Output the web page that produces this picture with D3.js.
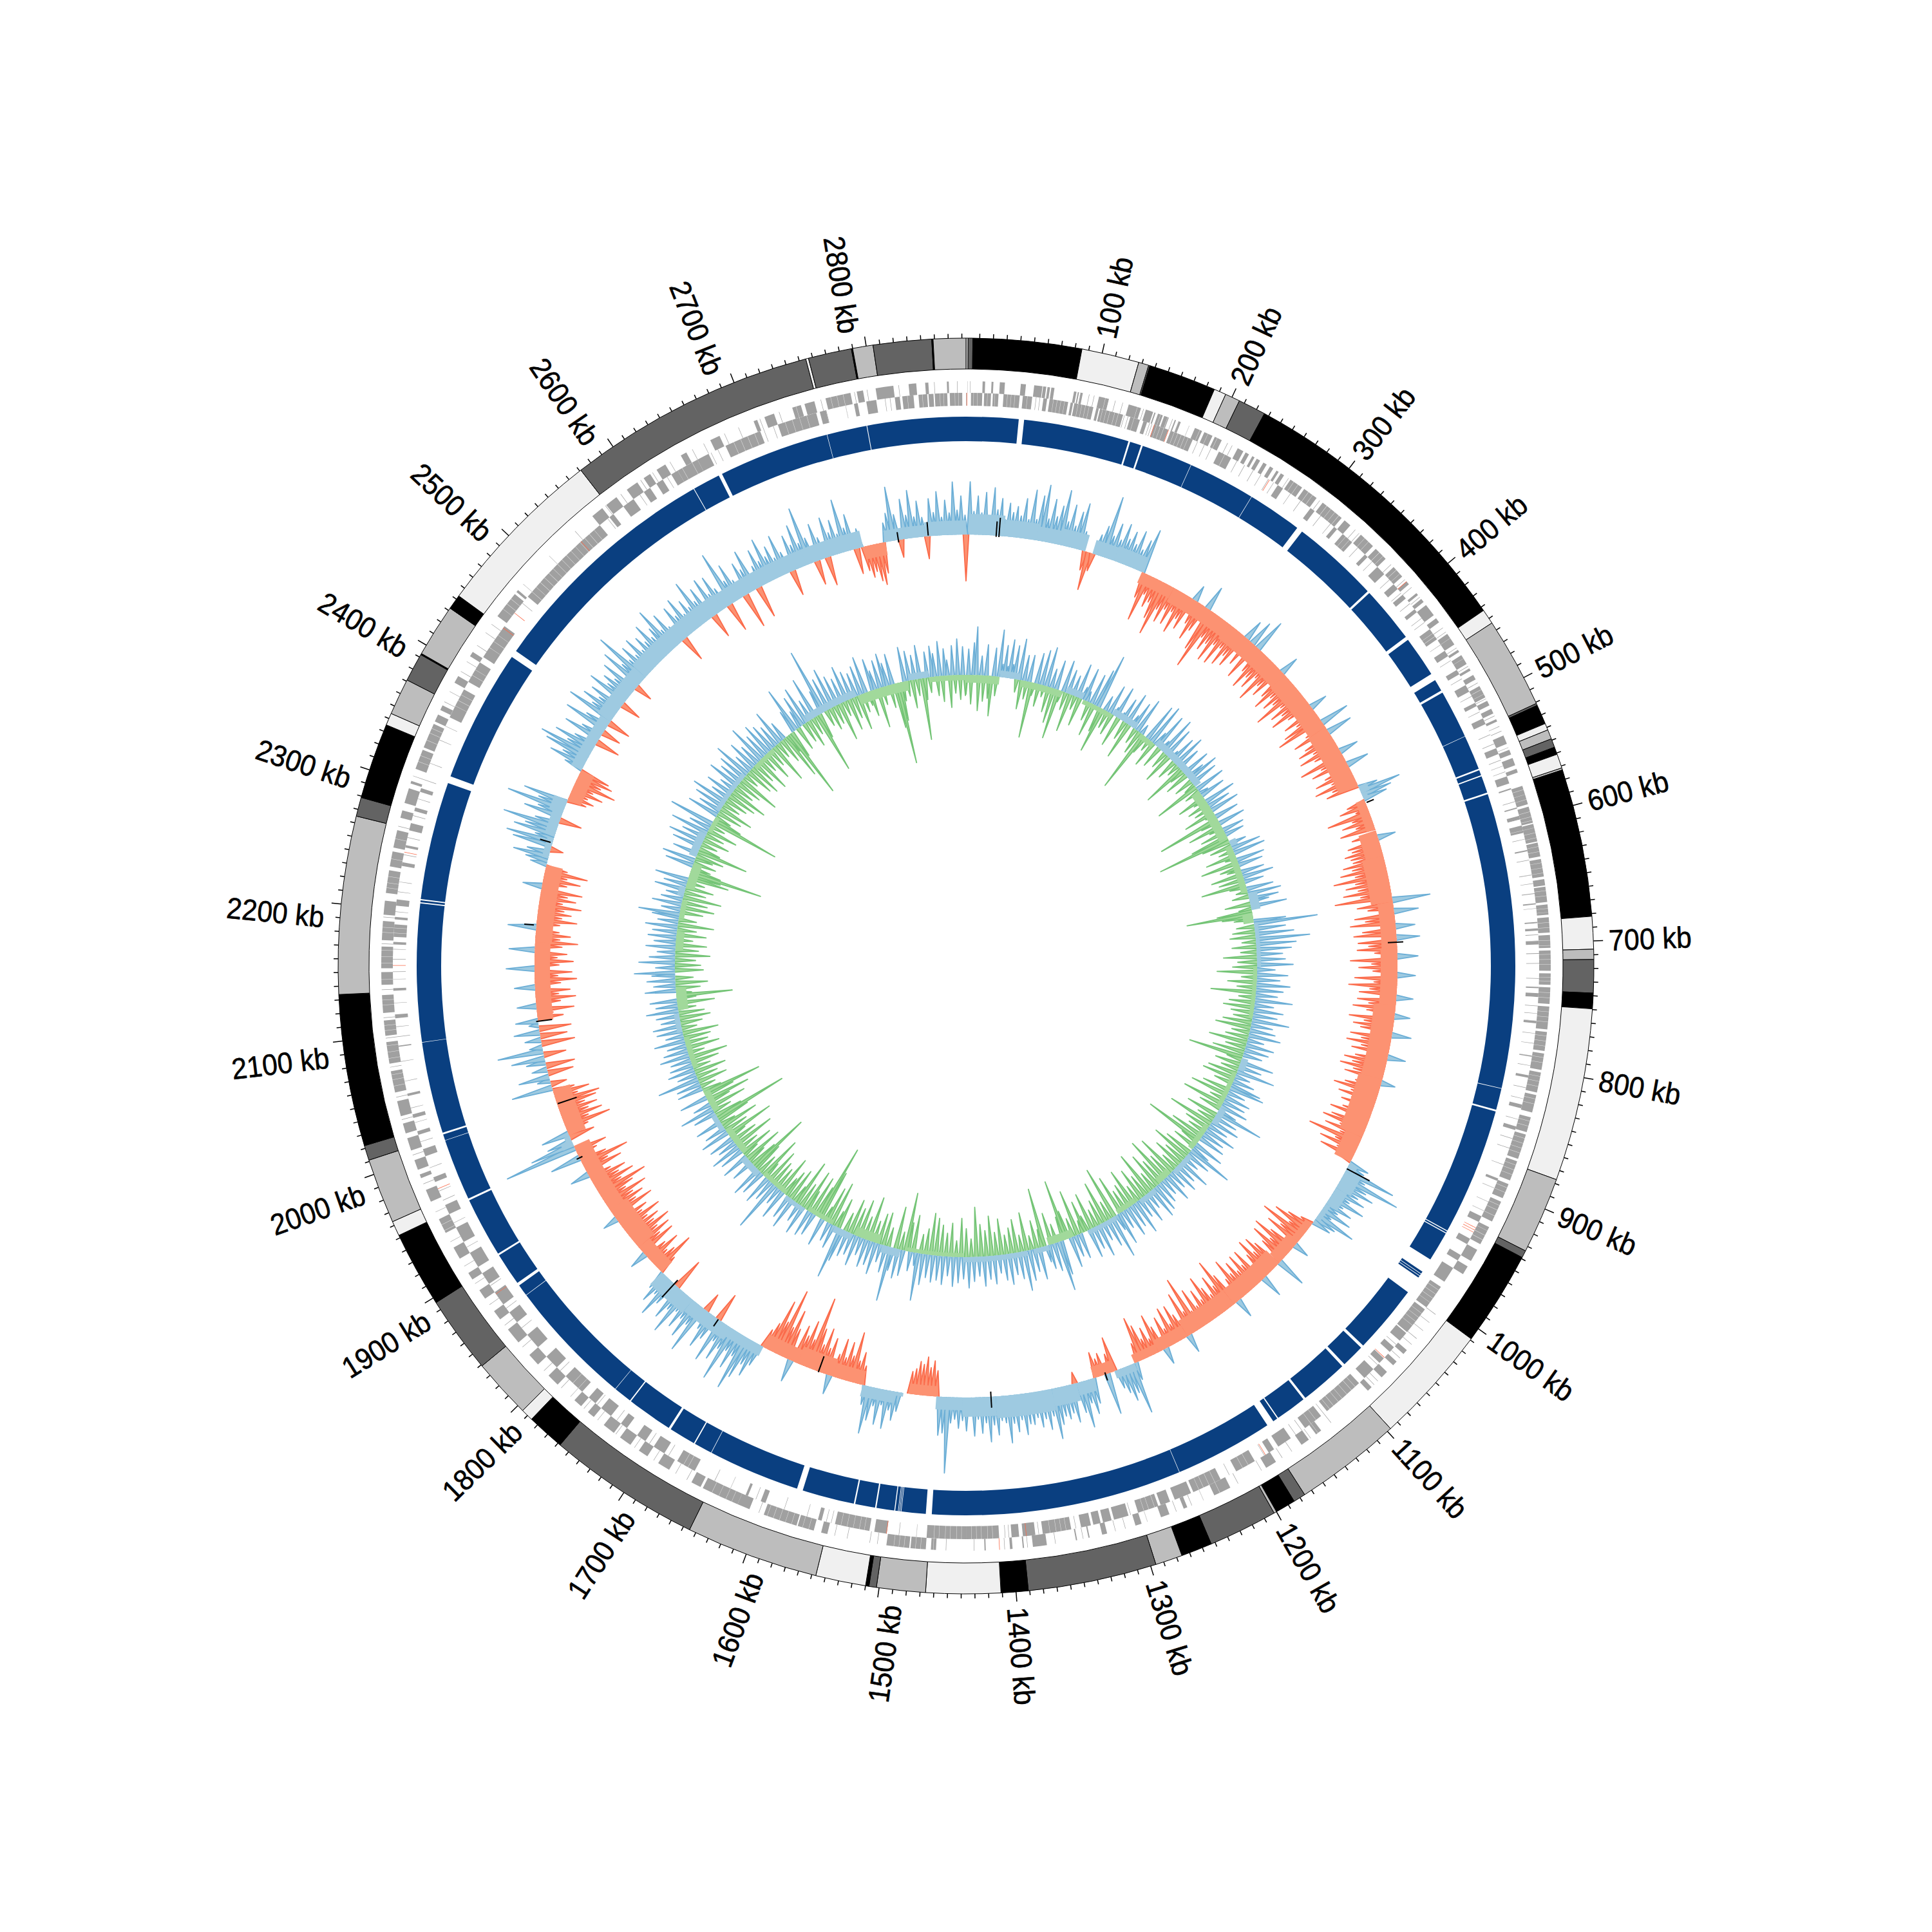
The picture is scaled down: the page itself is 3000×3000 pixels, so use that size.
<!DOCTYPE html>
<html><head><meta charset="utf-8">
<script src="https://cdn.jsdelivr.net/npm/d3@7"></script>
<style>html,body{margin:0;padding:0;background:#fff}svg{display:block}text{font-family:"Liberation Sans",sans-serif}</style>
</head><body><svg id="c" width="3000" height="3000"></svg>
<script>
const GENOME_KB=2873, WINDOW_KB=4;
const tickMajors=[100,200,300,400,500,600,700,800,900,1000,1100,1200,1300,1400,1500,1600,1700,1800,1900,2000,2100,2200,2300,2400,2500,2600,2700,2800];
// outer ring contigs: start kb, end kb, shade
const contigStart=[0,1.5,5,85,127.5,135,136,186,195,206,226.5,443,454,521,522.5,537,542,549,555.5,561,571.5,573,682,706,713.5,738,749.5,877,933.6,939,1009,1097,1176,1185,1200,1202,1253,1276,1296,1391,1411,1466,1502,1507.5,1510,1547,1645,1758,1786,1795,1839,1896,1952,1963,2011,2022,2134,2265,2279,2335,2344,2371,2392,2393,2432,2443,2571,2755,2757,2789,2790,2805,2848,2849];
const contigShade=["#f0f0f0","#636363","#000000","#f0f0f0","#bdbdbd","#636363","#000000","#f0f0f0","#bdbdbd","#636363","#000000","#f0f0f0","#bdbdbd","#636363","#000000","#f0f0f0","#bdbdbd","#636363","#000000","#f0f0f0","#bdbdbd","#000000","#f0f0f0","#bdbdbd","#636363","#000000","#f0f0f0","#bdbdbd","#636363","#000000","#f0f0f0","#bdbdbd","#636363","#000000","#bdbdbd","#636363","#000000","#bdbdbd","#636363","#000000","#f0f0f0","#bdbdbd","#636363","#000000","#f0f0f0","#bdbdbd","#636363","#000000","#f0f0f0","#bdbdbd","#636363","#000000","#f0f0f0","#bdbdbd","#636363","#000000","#bdbdbd","#636363","#000000","#f0f0f0","#bdbdbd","#636363","#000000","#bdbdbd","#000000","#f0f0f0","#636363","#f0f0f0","#636363","#000000","#bdbdbd","#636363","#000000","#bdbdbd"];
// gaps in the blue ring
const blueGaps=[[44,48.5],[137.3,138.8],[148.3,149.8],[192.8,193.2],[249.8,250.2],[296,301],[375,377],[424.5,427.5],[462,468],[478,480],[520.8,521.2],[550.3,551.6],[556,557],[571.4,572.8],[820.8,821.3],[839.3,840.8],[948,948.8],[950,950.8],[976,988],[990,990.5],[992,992.5],[994,1009],[1067,1069.5],[1089,1091.5],[1132,1134],[1160,1161],[1165,1171],[1253.8,1254.2],[1465,1470],[1490.4,1490.9],[1491.6,1492.1],[1492.8,1493.3],[1495.6,1496.4],[1511.4,1512.6],[1529.4,1530.6],[1574.5,1579.5],[1656.8,1657.2],[1672.5,1673.5],[1696,1698],[1736.5,1737.5],[1752.8,1753.2],[1860.8,1861.2],[1871,1873.5],[1901.2,1902.8],[1953.2,1954.8],[2006.8,2007.2],[2012.2,2013.8],[2090.8,2091.2],[2207,2208],[2209.6,2210.6],[2310,2316],[2428,2434],[2635.7,2636.3],[2659.5,2662.5],[2755.8,2756.2],[2789.7,2790.3]];
// forward strand gene blocks (outer row)
const geneForward=[[1,1.2],[3.2,3.5],[13,15],[20,21.5],[26.5,30.5],[43,47],[53.5,60],[60.5,63],[64,66],[67,69.5],[85,87],[88,89],[90,92],[105,113],[129,139],[143,149],[150,151],[153,157],[158,162],[167,168],[170,172],[184,190],[192,199],[201,207],[221,226],[228,231],[234,236],[238,241],[244,247],[250,253],[256,258],[260,263],[269,280],[282,294],[300,319],[322,328],[339,352],[355,366],[375,385],[390,393],[402,404],[408,411],[414,424],[427,431],[442,452],[457,459],[462,470],[474,476],[480,484],[490,500],[503,507],[510,514],[519,521],[533,540],[545,549],[552,558],[561,564],[575,590],[592,605],[606,620],[621,632],[634,648],[650,655],[656,668],[670,678],[680,692],[694,704],[706,722],[724,733],[735,748],[750,768],[770,785],[787,800],[802,818],[820,834],[838,850],[852,872],[874,890],[893,905],[908,925],[930,945],[950,960],[965,972],[1046,1050],[1058,1062],[1069,1075],[1086,1090],[1138,1143],[1150,1157],[1181,1190],[1222,1236],[1259,1262],[1274,1281],[1297,1302],[1325,1329],[1339,1340],[1349,1350],[1373,1384],[1391,1392],[1400,1402],[1421,1422],[1460,1464],[1468,1480],[1481,1499],[1546,1551],[1557,1570],[1571,1598],[1610,1620],[1620,1650],[1652,1660],[1680,1690],[1700,1708],[1716,1726],[1732,1742],[1752,1758],[1765,1772],[1790,1800],[1812,1822],[1835,1848],[1858,1866],[1878,1886],[1896,1902],[1915,1925],[1938,1950],[1965,1975],[1985,1988],[1992,2000],[2008,2018],[2022,2030],[2036,2048],[2055,2072],[2078,2095],[2100,2112],[2118,2132],[2140,2150],[2153,2170],[2175,2190],[2195,2206],[2212,2230],[2233,2245],[2248,2262],[2272,2278],[2284,2296],[2300,2302],[2312,2328],[2330,2350],[2352,2358],[2362,2366],[2386,2392],[2410,2414],[2448,2470],[2472,2474],[2556,2566],[2570,2580],[2590,2600],[2606,2612],[2618,2626],[2640,2645],[2666,2674],[2703,2706],[2712,2720],[2735,2742],[2745,2753],[2762,2782],[2787,2792],[2802,2816],[2828,2834],[2841,2843.5],[2858,2859.5]];
// reverse strand gene blocks (inner row)
const geneReverse=[[0,0.4],[4,13],[14.5,20],[21.5,26],[30,43],[45.5,53],[62,65],[67,82],[84,86],[87,102.5],[105,107],[108,127],[133,141],[144,147],[153,165],[167,186],[209,220],[263,268],[295,299],[319,322],[328,338],[352,355],[366,374],[385,390],[396,400],[411,414],[431,441],[452,457],[470,474],[484,490],[500,503],[514,519],[540,545],[564,570],[574,575],[590,591],[597,600],[605,611],[625,626],[645,645.5],[660,660.5],[668,669],[683,684],[688,690],[693,693.5],[698,701],[708,708.5],[735,736],[740,743],[762,764],[790,791],[806,808],[830,833],[848,851],[892,894],[925,930],[945,950],[960,965],[972,985],[990,1010],[1012,1035],[1036,1044],[1051,1056],[1063,1068],[1075,1085],[1091,1125],[1131,1147],[1161,1173],[1177,1182],[1195,1212],[1226,1250],[1252,1266],[1270,1278],[1280,1297],[1305,1317],[1319,1326],[1328,1334],[1336,1344],[1352,1375],[1381,1391],[1394,1400],[1410,1436],[1436,1468],[1500,1510],[1514,1542],[1553,1556],[1600,1604],[1615,1617],[1662,1678],[1690,1700],[1708,1716],[1726,1732],[1742,1752],[1758,1765],[1772,1790],[1800,1812],[1822,1835],[1848,1858],[1866,1878],[1886,1896],[1902,1915],[1925,1938],[1950,1958],[1978,1982],[2000,2006],[2018,2021],[2032,2035],[2050,2052],[2090,2091],[2113,2116],[2135,2137],[2172,2174],[2178,2188],[2192,2194],[2203,2208],[2235,2238],[2250,2252],[2264,2270],[2280,2283],[2296,2299],[2360,2385],[2392,2410],[2415,2445],[2475,2556],[2566,2570],[2580,2590],[2600,2606],[2612,2618],[2626,2632],[2632,2650],[2650,2660],[2675,2705],[2720,2752],[2755,2760],[2783,2786],[2793,2801],[2816,2820],[2822,2831],[2835,2842],[2843,2847],[2848,2858],[2860,2870]];
// single short genes drawn as thin lines
const thinOuter=[97,101,118,124,141,165,179,212,216,267,297,333,337,372,388,396,406,436,440,455,472,487,501,516,525,529,543,1010,1018,1026,1034,1040,1054,1079,1083,1128,1148,1166,1175,1194,1215,1245,1255,1268,1292,1310,1318,1344,1366,1388,1406,1430,1452,1506,1512,1530,1540,1602,1664,1674,1694,1712,1730,1748,1762,1776,1786,1805,1830,1852,1872,1892,1908,1930,1956,1980,2004,2033,2051,2075,2098,2114,2136,2172,2193,2265,2306,2369,2378,2396,2405,2420,2432,2440,2480,2510,2538,2569,2584,2603,2614,2630,2650,2660,2678,2690,2708,2724,2758,2785,2795,2820,2848,2866];
const thinInner=[56,59,128,131,149,151,190,196,202,225,232,240,247,254,259,275,285,305,315,344,360,380,394,405,420,424,446,461,478,494,508,528,536,550,555,560,585,616,633,652,672,716,728,750,756,772,780,798,816,825,842,858,866,880,900,912,920,1048,1070,1128,1150,1156,1186,1218,1303,1348,1378,1402,1405,1476,1490,1545,1549,1565,1584,1608,1630,1644,1686,1704,1736,1756,1796,1842,1862,1884,1920,1942,1962,1970,1990,2012,2028,2040,2062,2078,2098,2106,2125,2144,2150,2160,2168,2198,2214,2222,2244,2258,2276,2290,2306,2320,2340,2352,2468,2564,2596,2622,2662,2668,2708,2716,2760,2776,2808,2812];
// thin pale lines between neighbouring genes
const geneSlits=[6,9,17,23,33,36,39,49,70,73,76,79,90,93,96,99,110,113,116,120,123,136,155,158,161,170,173,176,179,182,188,195,203,214,272,276,286,290,304,308,312,316,331,335,343,347,359,363,378,382,435,438,446,465,493,497,578,582,586,596,600,603,609,613,617,624,628,637,641,645,659,663,673,676,684,688,698,702,709,713,717,727,730,739,743,754,758,762,773,777,781,790,794,805,809,813,823,827,841,845,855,859,863,867,877,881,885,896,900,911,915,920,933,937,941,993,997,1001,1005,1016,1020,1024,1028,1095,1099,1104,1109,1113,1118,1122,1136,1141,1201,1206,1231,1236,1241,1245,1283,1288,1292,1356,1360,1364,1369,1415,1419,1424,1428,1432,1440,1444,1449,1453,1458,1462,1472,1476,1485,1489,1493,1518,1522,1527,1532,1537,1561,1566,1575,1580,1585,1590,1595,1625,1630,1636,1642,1668,1672,1776,1782,1940,1945,2060,2065,2069,2082,2087,2092,2104,2108,2124,2128,2144,2157,2162,2167,2181,2185,2216,2220,2225,2239,2255,2318,2323,2336,2342,2346,2370,2375,2380,2398,2403,2424,2430,2436,2455,2460,2465,2480,2485,2490,2495,2500,2505,2510,2515,2520,2525,2530,2535,2540,2545,2550,2636,2645,2682,2688,2694,2700,2726,2732,2738,2744,2766,2771,2776,2826,2838,2852,2855,2864,2867];
const redGeneInner=[0.6,153,165,255,935,937,939,1062,1185,1388,1500,1876,1972,2155,2246,2443,2458,2536];
const redGeneOuter=[390,1410];
// solid pale bands next to the baselines: start kb, end kb, height (same units as the tracks)
const bandMiddle=[[3,40,32],[40,75,26],[75,100,22],[100,128,26],[136,160,22],[160,192,24],[192,230,-18],[230,300,-24],[300,380,-28],[380,450,-30],[450,520,-32],[522,530,14],[530,537,8],[537,571,-14],[572,600,-28],[600,650,-34],[650,700,-24],[700,760,-26],[760,840,-34],[840,905,-38],[905,934,-28],[936,945,14],[945,965,26],[965,985,20],[985,1005,8],[1011,1035,-12],[1035,1065,-20],[1065,1130,-28],[1130,1190,-28],[1190,1225,-20],[1225,1253,-14],[1253,1276,12],[1276,1299,-18],[1299,1318,20],[1318,1345,28],[1345,1405,34],[1405,1440,30],[1440,1468,20],[1468,1497,-16],[1503,1511,6],[1512,1547,18],[1547,1580,-22],[1580,1620,-28],[1620,1660,-22],[1660,1700,16],[1700,1750,22],[1750,1794,26],[1794,1830,-22],[1830,1880,-32],[1880,1958,-26],[1958,1964,18],[1964,1970,9],[1970,2022,-28],[2096,2180,-24],[2180,2263,-26],[2270,2292,10],[2295,2320,16],[2320,2335,22],[2335,2370,-22],[2370,2430,18],[2430,2490,24],[2490,2600,28],[2600,2700,26],[2700,2763,26],[2763,2787,-20],[2787,2830,18],[2830,2873,22]];
const bandInner=[[0,53,-12],[53,85,10],[88,155,-10],[160,188,10],[190,240,-7],[240,283,10],[295,320,-8],[324,415,11],[423,510,-14],[515,525,11],[525,600,-10],[605,630,14],[635,650,-16],[650,720,6],[720,800,-6],[865,885,10],[890,950,-7],[950,975,10],[985,1030,-8],[1040,1075,8],[1080,1105,-10],[1115,1145,8],[1150,1185,-8],[1190,1240,7],[1265,1305,-12],[1305,1330,8],[1340,1440,8],[1440,1530,-6],[1540,1570,12],[1575,1615,-14],[1620,1650,10],[1655,1700,-7],[1705,1740,7],[1745,1790,-7],[1795,1830,10],[1835,1880,-10],[1885,1910,8],[1915,1950,-10],[1990,2040,-8],[2050,2080,8],[2085,2120,-16],[2180,2210,-12],[2230,2260,-8],[2265,2280,10],[2280,2320,-14],[2330,2370,12],[2375,2400,-7],[2410,2480,7],[2500,2540,-7],[2610,2695,11],[2700,2780,-15],[2785,2815,10],[2815,2873,-8]];
// black marks on the middle track: kb, value from, value to
const blackMarks=[[32,-2,22],[35,-2,28],[541,2,14],[693,-14,10],[942,0,40],[1286,-3,10],[1410,-8,17],[1596,-25,1],[1716,0,13],[1776,-8,28],[1944,-5,5],[2006,-32,-1],[2096,-22,3],[2198,4,19],[2287,3,20],[2801,-4,12],[2833,1,22]];
// middle track, one value per window
const trackMiddle=[
-72,82,36,60,34,66,30,74,40,58,26,52,38,48,34,62,30,77,32,70,88,36,68,42,60,
86,38,66,34,58,73,30,-30,-60,-28,32,48,97,36,58,34,62,40,54,36,60,32,50,70,-40,
-75,-30,-48,-38,-62,-86,-42,-60,-36,-58,-34,-66,-40,-54,25,-38,-62,-44,38,-70,-98,-42,-60,-46,-72,
-40,-70,-38,-64,-44,-58,32,-46,40,-62,52,-42,-68,-45,-60,-36,-74,-42,-56,30,-48,-66,-40,-58,-44,
-79,-38,-60,-44,-66,-40,28,-54,-36,-62,-76,46,-34,-58,40,-46,-60,-38,-64,-42,30,-72,-40,-58,35,
-42,-60,-36,-66,-40,-52,30,65,48,38,-30,-44,-20,-68,-30,-48,-28,-55,0,-40,28,-50,-45,-58,-50,
-48,-65,-52,-72,-50,-85,-52,-68,-50,-74,-48,-89,59,-56,-40,38,-62,-46,-70,30,-52,-66,36,-60,-44,
-62,-35,32,-73,-40,-60,-38,28,-66,-36,-75,-42,-58,26,-60,-42,-66,-44,24,-70,-46,-62,-50,30,-64,
-46,-68,-44,-58,28,-50,-66,-52,-70,-48,-60,22,-40,-55,-71,-42,-60,-38,-52,0,-46,-64,-36,-58,-70,
-40,-62,-35,-84,-38,-61,-30,-55,-25,32,28,82,36,96,45,60,38,52,30,58,26,44,24,50,20,
64,35,30,-20,-40,-60,-30,-75,-38,-58,25,-44,-70,-36,-64,-42,47,-48,-62,-40,-66,-44,35,-60,-38,
-60,-36,-56,-40,-68,-38,30,-54,-83,-42,-62,-34,-50,-72,-36,-56,-32,-64,-30,-90,-36,-70,29,-40,-58,
-30,-60,-28,-50,26,-40,-62,-25,-46,-30,-55,-70,-30,28,80,45,55,40,30,-55,-30,65,-35,-28,-40,
40,55,36,73,48,-18,60,44,52,46,58,79,42,62,44,56,40,50,48,64,40,58,44,74,42,
38,60,44,70,40,56,34,60,0,52,36,48,34,40,118,56,60,-40,-55,-44,-60,-48,-52,-40,-35,
0,0,30,45,30,60,24,56,28,52,74,30,-30,-50,-35,-79,-40,-60,-34,-62,-36,30,-58,-40,-70,
-42,-66,-114,-44,-72,-46,-60,35,-50,-78,-48,-107,-52,-84,-44,-30,35,56,40,66,88,36,60,34,87,
38,60,32,70,-45,40,58,30,-30,79,36,62,34,54,30,73,36,56,-50,40,66,32,50,30,-30,
-67,-40,-30,-56,-36,28,-60,-40,-62,-44,-70,-46,-58,-42,-68,-40,-52,24,-69,-44,-60,-46,-72,-40,-56,
-81,-42,-66,-44,-58,-36,30,-60,-40,-76,-42,48,-32,-50,115,70,40,-40,44,-35,-73,-40,-64,-44,-60,
-42,-62,-69,-36,-56,-34,64,-25,20,48,-40,24,-45,30,52,-35,71,20,-52,25,-42,40,-50,15,35,
-40,-25,-58,30,-38,-62,-36,-54,32,-40,-65,-36,-58,44,-38,-60,-35,-50,40,-42,-66,-38,-54,-36,44,
-36,-62,-38,-52,-40,-66,-36,-56,-42,-64,30,-38,-58,-36,-67,-34,26,35,56,36,-20,62,74,30,66,
50,87,38,-35,60,40,92,44,70,-30,-40,-28,-50,-32,-66,-40,-56,-48,30,58,40,72,84,42,66,
36,-38,60,34,-30,70,38,-36,77,40,60,36,54,-32,66,38,50,34,60,-28,70,40,90,36,56,
34,60,32,52,38,64,36,48,76,34,58,30,-40,56,36,62,30,50,34,74,36,54,-38,62,32,
58,34,-45,87,36,60,30,-55,52,38,66,-50,34,58,36,70,38,52,30,64,34,-40,56,38,68,
36,91,40,-38,58,34,-45,62,36,54,30,83,36,56,-40,30,-38,-50,-42,-58,-65,-48,30,44,84,
40,-28,62,36,74,32,56,30,-35,58,36,68,28,54,34,82,38,60,30];
// inner track, one value per window
const trackInner=[
-30,40,-45,50,75,-55,30,-40,48,-35,-62,44,-30,73,20,50,18,60,22,52,-20,64,-45,40,-28,
42,-87,-20,48,-35,55,-18,62,-40,30,-55,46,-78,-18,50,-28,38,-60,32,-22,54,-45,20,52,16,
-30,48,-52,60,86,-40,-72,24,-28,46,-35,14,50,-48,12,38,-30,52,-58,20,44,-25,56,-38,16,
-98,-30,60,-20,66,-42,24,58,-35,18,62,-28,50,-48,16,44,-32,54,-20,38,-69,-24,46,-38,30,
52,-30,44,-18,-72,48,-25,14,40,-45,-20,50,-35,36,-28,46,-50,-16,38,-100,-30,42,-55,-22,34,
-40,30,-60,-116,-45,26,-35,46,-24,50,-48,-18,44,-60,38,-32,-22,36,-50,48,-40,30,-70,-26,42,
-18,52,-26,46,30,-40,56,-20,-55,-103,-48,-30,50,99,-28,48,-35,60,-40,84,-22,62,-38,54,-25,
40,-52,44,-30,56,-38,28,-62,48,-24,36,-45,52,-30,42,-70,34,-26,58,-40,30,-48,46,-35,38,
-30,58,-45,34,-55,40,-28,50,-36,26,-60,44,-32,38,-50,30,-86,-24,52,-40,36,-28,60,-46,24,
-52,34,-30,48,55,-44,28,-60,40,-25,36,-66,44,-35,30,76,-50,38,-28,46,-72,32,-40,50,-30,
36,-55,42,-94,-30,48,-38,30,72,-45,40,-62,26,-35,52,-48,34,-28,44,-66,30,-40,46,-74,28,
-42,36,-58,44,-30,50,-70,28,-36,46,-52,32,-28,54,-60,38,-40,48,-34,30,-62,52,26,-83,67,
-30,44,-66,30,-40,52,-28,36,-58,46,-25,-50,-20,40,-72,34,-30,48,-45,-95,-38,54,78,-30,44,
-50,38,26,-92,-28,50,-44,36,-22,48,-60,62,-26,42,-52,34,-40,48,-30,40,-56,28,-36,44,-62,
36,-40,46,-50,30,-77,38,-28,48,-44,34,-60,40,-25,46,-52,30,-36,44,-48,38,-58,42,-65,36,
-40,48,-30,74,20,-58,30,-45,-91,40,-28,46,-66,36,85,-30,42,-52,28,-48,50,-34,38,-70,44,
-36,28,-60,48,-44,34,-55,40,-30,52,81,-48,-26,38,-70,30,-58,-24,44,-80,-120,-50,36,-62,42,
-34,-66,46,-40,30,-74,-28,50,-52,38,-44,-30,48,-60,28,-36,81,-42,34,-56,46,-28,-70,40,-32,
50,-48,-99,-45,36,-30,-62,44,-26,-54,38,-34,48,-66,30,-42,40,-28,-77,46,-38,34,-60,-24,42,
-52,-117,-44,36,-30,54,-58,28,-36,-70,44,-48,-94,-30,40,-24,38,-46,65,-34,30,-50,42,-28,36,
-44,32,-60,46,-26,38,-52,30,-36,48,-42,28,-56,40,-24,44,-34,30,-48,36,-40,50,-28,34,-58,
42,-30,-87,-24,48,-38,34,-50,44,-28,36,63,-44,30,-40,56,-32,40,-54,28,-36,46,-48,34,-26,
44,-46,38,-30,50,-56,32,-28,42,64,-36,30,-52,46,-40,34,-60,28,-34,48,-44,36,-28,52,-64,
-50,-115,-48,-30,44,-36,52,-28,-44,40,-80,-34,46,-26,56,-42,38,-30,60,-48,34,-24,71,-110,-46,
-26,50,-40,36,-54,48,-28,58,-36,30,-46,44,-60,26,-32,52,-40,38,-66,46,-24,60,-44,30,-52,
48,-36,34,-56,62,-28,40,-48,52,-30,44,-64,36,-26,56,-40,30,-72,-30,-110,-44,36,72,-38,28,
50,-32,60,-44,34,-28,66,-95,-40,38,104,-26,52,-36,64,-30,48,-60,40,-24,56,-50,44,-34,38,
-55,46,-30,58,-22,-40,50,30,-62,44,-28,52,36,-36,48,-70,-127,-60,-30,54,-24,46,-44,38,-26,
52,-96,-34,40,-24,48,36,-30,54,-40,42,24,-50,46,-28,56,-38,44,-32];

const svg=d3.select("#c"), g=svg.append("g").attr("transform","translate(1500,1500)");
const angle=d3.scaleLinear([0,GENOME_KB],[0,2*Math.PI]);
const rMiddle=d3.scaleLinear([-100,100],[570,770]);
const rInner=d3.scaleLinear([-100,100],[352,552]);
const ring=(r0,r1,a,b)=>d3.arc()({innerRadius:r0,outerRadius:r1,startAngle:angle(a),endAngle:angle(b)});
const R_OUT=975,R_IN=927;
g.append("g").selectAll("path").data(contigStart).join("path")
 .attr("d",(s,i)=>ring(R_IN,R_OUT,s,i+1<contigStart.length?contigStart[i+1]:GENOME_KB))
 .attr("fill",(s,i)=>contigShade[i]).attr("stroke","#000").attr("stroke-width",1);
const minors=d3.range(10,GENOME_KB,10);
g.append("g").selectAll("line").data(minors).join("line").each(function(k){
 const a=angle(k)-Math.PI/2,len=(k%100===0)?15:7;
 d3.select(this).attr("x1",R_OUT*Math.cos(a)).attr("y1",R_OUT*Math.sin(a)).attr("x2",(R_OUT+len)*Math.cos(a)).attr("y2",(R_OUT+len)*Math.sin(a));
}).attr("stroke","#000").attr("stroke-width",1.5);
g.append("g").selectAll("text").data(tickMajors).join("text").text(k=>k+" kb").each(function(k){
 const deg=angle(k)*180/Math.PI,r=999,a=angle(k)-Math.PI/2,right=deg<180;
 d3.select(this).attr("text-anchor",right?"start":"end").attr("dominant-baseline","central").attr("y",right?0:23)
  .attr("transform",`translate(${r*Math.cos(a)},${r*Math.sin(a)}) rotate(${right?deg-90:deg+90}) scale(0.93,1)`);
}).attr("font-size",46).attr("fill","#000").attr("stroke","#000").attr("stroke-width",0.6);
const GENE="#a0a0a0";
g.append("g").selectAll("path").data(geneForward).join("path").attr("d",d=>ring(890,908,d[0],d[1])).attr("fill",GENE);
g.append("g").selectAll("path").data(geneReverse).join("path").attr("d",d=>ring(870,890,d[0],d[1])).attr("fill",GENE);
g.append("g").selectAll("path").data(thinOuter).join("path").attr("d",k=>ring(890,908,k,k+0.35)).attr("fill",GENE);
g.append("g").selectAll("path").data(thinInner).join("path").attr("d",k=>ring(870,890,k,k+0.35)).attr("fill",GENE);
g.append("g").selectAll("path").data(geneSlits).join("path").attr("d",k=>ring(869,909,k,k+0.25)).attr("fill","#fff").attr("fill-opacity",0.75);
g.append("g").selectAll("path").data(redGeneInner).join("path").attr("d",k=>ring(870,890,k,k+0.4)).attr("fill","#fb6a4a");
g.append("g").selectAll("path").data(redGeneOuter).join("path").attr("d",k=>ring(890,908,k,k+0.4)).attr("fill","#fb6a4a");
g.append("path").attr("d",d3.arc()({innerRadius:815,outerRadius:853,startAngle:0,endAngle:2*Math.PI})).attr("fill","#0a3f80");
g.append("g").selectAll("path").data(blueGaps).join("path").attr("d",d=>ring(813,855,d[0],d[1])).attr("fill","#fff");
// signal tracks: every window is one spike from the baseline, pale bands go over them
function drawTrack(values,bands,rs,posFill,posLine,negFill,negLine){
 const base=rs(0), half=0.75*WINDOW_KB;
 const spike=d3.lineRadial().angle(p=>angle(p[0])).radius(p=>p[1]);
 const items=values.map((v,i)=>({v,k:i*WINDOW_KB})).filter(d=>d.v!==0);
 g.append("g").selectAll("path").data(items).join("path")
  .attr("d",d=>spike([[d.k-half,base],[d.k,rs(d.v)],[d.k+half,base]]))
  .attr("fill",d=>d.v>0?posFill:negFill).attr("stroke",d=>d.v>0?posLine:negLine)
  .attr("stroke-width",1.8).attr("stroke-linejoin","round");
 g.append("g").selectAll("path").data(bands).join("path")
  .attr("d",d=>{const r=rs(d[2]);return ring(Math.min(r,base),Math.max(r,base),d[0],d[1]);})
  .attr("fill",d=>d[2]>0?posFill:negFill);
}
drawTrack(trackMiddle,bandMiddle,rMiddle,"#9ecae1","#6baed6","#fc9272","#fb6a4a");
drawTrack(trackInner,bandInner,rInner,"#9ecae1","#6baed6","#a1d99b","#74c476");
g.append("g").selectAll("line").data(blackMarks).join("line").each(function(d){
 const a=angle(d[0])-Math.PI/2;
 d3.select(this).attr("x1",rMiddle(d[1])*Math.cos(a)).attr("y1",rMiddle(d[1])*Math.sin(a)).attr("x2",rMiddle(d[2])*Math.cos(a)).attr("y2",rMiddle(d[2])*Math.sin(a));
}).attr("stroke","#000").attr("stroke-width",2);
</script></body></html>
